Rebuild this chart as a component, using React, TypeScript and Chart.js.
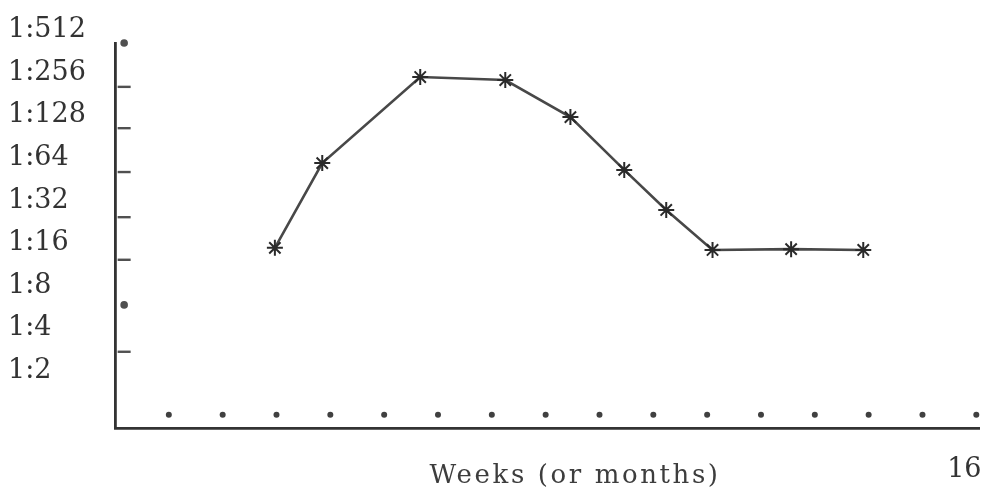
import React, { useEffect, useRef } from "react";
import { Chart, registerables } from "chart.js";

Chart.register(...registerables);

// Time (weeks) of each titer reading
const weeks = [2.97, 3.85, 5.67, 7.25, 8.46, 9.46, 10.24, 11.1, 12.56, 13.9];
// Titer as log2 of the reciprocal dilution (4 = 1:16, 8 = 1:256)
const titerLog2 = [3.82, 5.81, 7.83, 7.76, 6.89, 5.65, 4.71, 3.77, 3.79, 3.77];

// y tick labels: log2 levels 1..9 -> "1:2" .. "1:512"
const yTickLevels = [1, 2, 3, 4, 5, 6, 7, 8, 9];
// dotted week markers along the bottom
const weekMarkers = [1, 2, 3, 4, 5, 6, 7, 8, 9, 10, 11, 12, 13, 14, 15, 16];
const weekMarkerLevel = -0.1;
// small hand-drawn marks on the y axis
const axisMarkLevels = [8.63, 7.6, 6.63, 5.6, 4.54, 3.54, 2.48, 1.38];
const axisMarkStyles = ["circle", "line", "line", "line", "line", "line", "circle", "line"];
const axisMarkX = 0.17;

const xTickLevels = [16];
const xTitle = "Weeks (or months)";

const FONT = '"DejaVu Serif", "Liberation Serif", serif';
const INK = "#333333";

export default function App() {
  const ref = useRef<HTMLCanvasElement | null>(null);

  useEffect(() => {
    if (!ref.current) return;
    const titlePlugin = {
      id: "xTitleTypewriter",
      afterDraw(chart: any) {
        const { ctx, chartArea } = chart;
        ctx.save();
        ctx.font = `26px ${FONT}`;
        try {
          (ctx as any).letterSpacing = "2.6px";
        } catch (e) {}
        ctx.fillStyle = "#3d3d3d";
        ctx.textAlign = "center";
        ctx.textBaseline = "alphabetic";
        ctx.fillText(xTitle, (chartArea.left + chartArea.right) / 2 + 28, chartArea.bottom + 55);
        ctx.restore();
      },
    };

    const chart = new Chart(ref.current, {
      type: "scatter",
      data: {
        datasets: [
          {
            type: "line",
            data: weeks.map((w, i) => ({ x: w, y: titerLog2[i] })),
            borderColor: "#484848",
            borderWidth: 2.6,
            tension: 0,
            pointStyle: "star",
            pointRadius: 8,
            pointBorderWidth: 2,
            pointBorderColor: "#2a2a2a",
            pointBackgroundColor: "#2a2a2a",
            clip: false,
          } as any,
          {
            data: weekMarkers.map((w) => ({ x: w, y: weekMarkerLevel })),
            pointStyle: "circle",
            pointRadius: 3,
            pointBackgroundColor: "#404040",
            pointBorderColor: "#404040",
            pointBorderWidth: 0,
            showLine: false,
            clip: false,
          } as any,
          {
            data: axisMarkLevels.map((v) => ({ x: axisMarkX, y: v })),
            pointStyle: axisMarkStyles,
            pointRadius: axisMarkStyles.map((s) => (s === "circle" ? 2.6 : 6.5)),
            pointBackgroundColor: "#505050",
            pointBorderColor: "#505050",
            pointBorderWidth: 2.4,
            showLine: false,
            clip: false,
          } as any,
        ],
      },
      options: {
        responsive: false,
        animation: false,
        events: [],
        layout: { padding: { left: 8, top: 43, right: 19, bottom: 0 } },
        plugins: {
          legend: { display: false },
          tooltip: { enabled: false },
          title: { display: false },
        },
        scales: {
          x: {
            type: "linear",
            min: 0,
            max: 16.05,
            grid: { display: false, drawTicks: false },
            border: { display: true, color: "#333333", width: 2.8 },
            afterBuildTicks: (s: any) => {
              s.ticks = xTickLevels.map((v) => ({ value: v }));
            },
            ticks: {
              autoSkip: false,
              maxRotation: 0,
              padding: 26,
              labelOffset: -12,
              color: INK,
              font: { family: FONT, size: 27 },
              callback: (v: any) => String(v),
            },
            afterFit: (s: any) => {
              s.height = 63;
              s.paddingLeft = 0;
              s.paddingRight = 0;
            },
          },
          y: {
            type: "linear",
            min: -0.41,
            max: 8.63,
            grid: { display: false, drawTicks: false },
            border: { display: true, color: "#333333", width: 2.8 },
            afterBuildTicks: (s: any) => {
              s.ticks = yTickLevels.map((v) => ({ value: v }));
            },
            ticks: {
              crossAlign: "far",
              labelOffset: 3,
              color: INK,
              font: { family: FONT, size: 27 },
              callback: (v: any) => "1:" + Math.pow(2, Number(v)),
            },
            afterFit: (s: any) => {
              s.width = 107;
              s.paddingTop = 0;
              s.paddingBottom = 0;
            },
          },
        },
      },
      plugins: [titlePlugin],
    });
    return () => chart.destroy();
  }, []);

  return (
    <canvas
      ref={ref}
      width={998}
      height={491}
      style={{ position: "absolute", left: 0, top: 0, display: "block", width: 998, height: 491 }}
    />
  );
}
